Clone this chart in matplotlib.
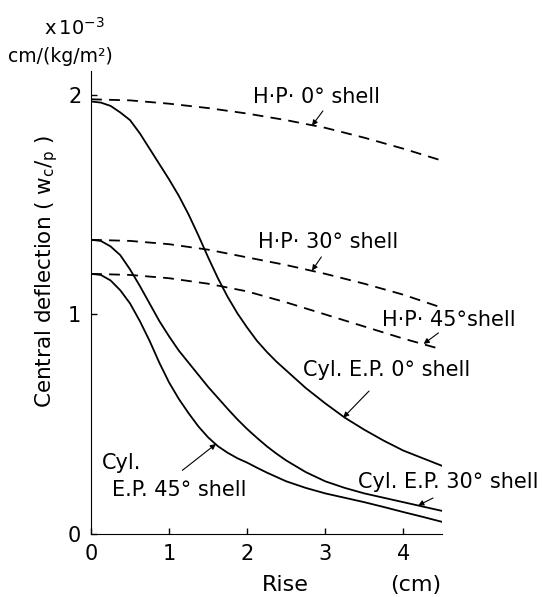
import matplotlib.pyplot as plt
import numpy as np

# rise (cm) and central deflection (x10^-3 cm/(kg/m2))
rise_hp = [0, 0.5, 1, 1.5, 2, 2.5, 3, 3.5, 4, 4.5]
hp_0 = [1.98, 1.975, 1.96, 1.94, 1.915, 1.885, 1.85, 1.805, 1.755, 1.70]
hp_30 = [1.34, 1.335, 1.32, 1.295, 1.26, 1.225, 1.185, 1.14, 1.09, 1.03]
hp_45 = [1.185, 1.18, 1.165, 1.14, 1.105, 1.055, 1.0, 0.945, 0.89, 0.84]

rise_cyl = [0, 0.125, 0.25, 0.375, 0.5, 0.625, 0.75, 0.875, 1, 1.125, 1.25, 1.375,
            1.5, 1.625, 1.75, 1.875, 2, 2.125, 2.25, 2.375, 2.5, 2.75, 3, 3.25, 3.5, 3.75, 4, 4.25, 4.5]
cyl_0 = [1.97, 1.965, 1.95, 1.92, 1.885, 1.825, 1.755, 1.685, 1.615, 1.54, 1.455, 1.36,
         1.26, 1.165, 1.08, 1.005, 0.94, 0.88, 0.83, 0.785, 0.745, 0.665, 0.595, 0.53, 0.475,
         0.425, 0.38, 0.345, 0.31]
cyl_30 = [1.34, 1.335, 1.31, 1.27, 1.205, 1.13, 1.05, 0.97, 0.90, 0.835, 0.78, 0.725,
          0.67, 0.62, 0.57, 0.522, 0.478, 0.438, 0.40, 0.366, 0.335, 0.282, 0.24, 0.21,
          0.185, 0.165, 0.145, 0.125, 0.105]
cyl_45 = [1.185, 1.18, 1.155, 1.11, 1.05, 0.97, 0.88, 0.78, 0.69, 0.615, 0.55, 0.49,
          0.44, 0.40, 0.37, 0.345, 0.325, 0.302, 0.28, 0.26, 0.24, 0.21, 0.185, 0.165,
          0.145, 0.123, 0.10, 0.078, 0.055]

plt.rcParams['font.family'] = 'DejaVu Sans'
fig = plt.figure(figsize=(5.49, 5.97), dpi=100)
ax = fig.add_axes([0.1658, 0.1055, 0.64, 0.776])

lw = 1.3
dash = (0, (6, 4))
for ys in (hp_0, hp_30, hp_45):
    ax.plot(rise_hp, ys, color='black', lw=lw, linestyle=dash)
for ys in (cyl_0, cyl_30, cyl_45):
    ax.plot(rise_cyl, ys, color='black', lw=lw)

ax.set_xlim(0, 4.5)
ax.set_ylim(0, 2.11)
ax.spines['top'].set_visible(False)
ax.spines['right'].set_visible(False)
ax.set_xticks([0, 1, 2, 3, 4])
ax.set_yticks([0, 1, 2])
ax.tick_params(direction='in', length=4, width=1, labelsize=15, pad=7)

fs = 15
ax.text(2.08, 1.99, "H·P· 0° shell", fontsize=fs, va='center')
ax.text(2.14, 1.33, "H·P· 30° shell", fontsize=fs, va='center')
ax.text(3.73, 0.975, "H·P· 45°shell", fontsize=fs, va='center')
ax.text(2.72, 0.747, "Cyl. E.P. 0° shell", fontsize=fs, va='center')
ax.text(3.42, 0.237, "Cyl. E.P. 30° shell", fontsize=fs, va='center')
ax.text(0.14, 0.323, "Cyl.", fontsize=fs, va='center')
ax.text(0.27, 0.20, "E.P. 45° shell", fontsize=fs, va='center')

# pointer arrows: (tail, head)
arrows = [((2.97, 1.927), (2.83, 1.86)),
          ((2.95, 1.262), (2.83, 1.20)),
          ((4.45, 0.916), (4.26, 0.866)),
          ((3.56, 0.651), (3.23, 0.53)),
          ((4.38, 0.164), (4.19, 0.13)),
          ((1.17, 0.29), (1.60, 0.41))]
for tail, head in arrows:
    ax.annotate("", xy=head, xytext=tail,
                arrowprops=dict(arrowstyle='-|>', color='black', lw=0.8,
                                mutation_scale=8, shrinkA=0, shrinkB=0))

fig.text(0.085, 0.545, r"Central deflection ( w$_\mathregular{c}$/$_\mathregular{p}$ )",
         rotation=90, ha='center', va='center', fontsize=15.5)
fig.text(0.135, 0.953, r"x$\,$10$^{-3}$", ha='center', va='center', fontsize=14)
fig.text(0.11, 0.905, "cm/(kg/m²)", ha='center', va='center', fontsize=13.5)
fig.text(0.52, 0.003, "Rise", ha='center', va='bottom', fontsize=16)
fig.text(0.758, 0.003, "(cm)", ha='center', va='bottom', fontsize=16)

plt.savefig("out.png", dpi=100)
